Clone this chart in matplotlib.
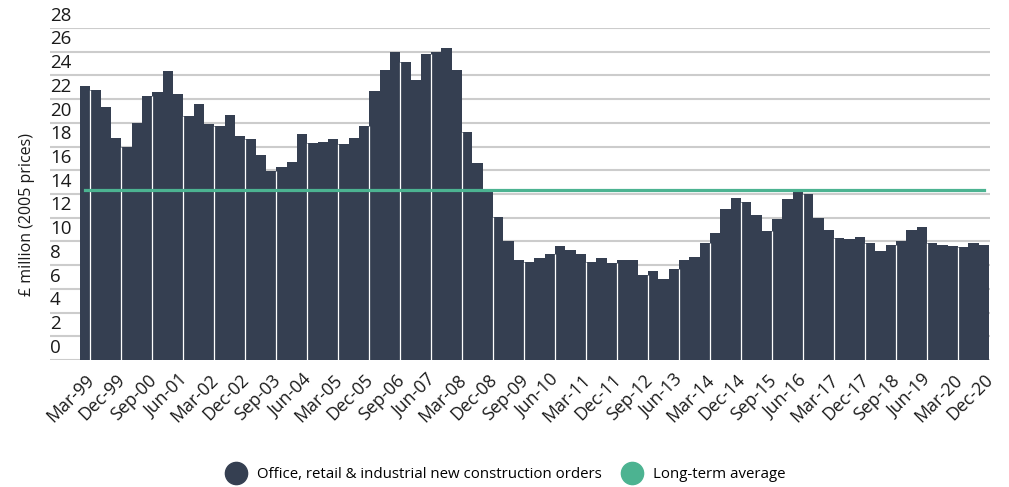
#!/usr/bin/env python3

import numpy as np
import matplotlib
matplotlib.use('Agg')
import matplotlib.pyplot as plt
import matplotlib.transforms as mtransforms
from matplotlib.lines import Line2D

plt.rcParams['font.family'] = ['Open Sans', 'DejaVu Sans']

# quarterly, Mar-99 .. Dec-20
quarters = []
for yr in range(1999, 2021):
	for m in ['Mar', 'Jun', 'Sep', 'Dec']:
		quarters.append(m + '-' + str(yr)[2:])

orders = [
	23.1, 22.8, 21.3, 18.7, 18.0, 20.0, 22.3, 22.6, 24.4, 22.4,
	20.6, 21.6, 19.9, 19.7, 20.7, 18.9, 18.6, 17.3, 15.9, 16.3,
	16.7, 19.1, 18.3, 18.4, 18.6, 18.2, 18.7, 19.7, 22.7, 24.5,
	26.0, 25.1, 23.6, 25.8, 26.0, 26.3, 24.5, 19.2, 16.6, 14.4,
	12.1, 10.0, 8.4, 8.3, 8.6, 8.9, 9.6, 9.3, 8.9, 8.3,
	8.6, 8.2, 8.4, 8.4, 7.2, 7.5, 6.8, 7.7, 8.4, 8.7,
	9.9, 10.7, 12.7, 13.7, 13.3, 12.2, 10.9, 11.9, 13.6, 14.2,
	14.0, 12.0, 11.0, 10.3, 10.2, 10.4, 9.9, 9.2, 9.7, 10.0,
	11.0, 11.2, 9.9, 9.7, 9.6, 9.5, 9.9, 9.7,
]
long_term_avg = 14.3

yticks = list(range(0, 29, 2))

bar_col = '#353f51'
avg_col = '#4cb391'
grid_col = '#cccccc'

fig = plt.figure(figsize=(10.09, 4.87), dpi=100)
ax = fig.add_axes([50/1009, 1 - 360/487, 940/1009, 332/487])

x = np.arange(len(orders))
ax.bar(x, orders, width=1.0, color=bar_col, zorder=2)

# white separators every 3 quarters
for i in range(0, len(orders) - 1, 3):
	ax.vlines(i + 0.5, 0, min(orders[i], orders[i+1]), color='white', lw=0.9, zorder=3)

ax.plot([x[0], x[-1]], [long_term_avg, long_term_avg], color=avg_col, lw=2.3, zorder=4)

for v in yticks[1:]:
	ax.axhline(v, color=grid_col, lw=1.5, zorder=1)
ax.axhline(0, color=grid_col, lw=1.5, zorder=1)

ax.set_xlim(-3.4, 87.6)
ax.set_ylim(0, 28)
for s in ax.spines.values():
	s.set_visible(False)

ax.set_yticks([])
# y labels sit above their gridlines
lab_tr = mtransforms.offset_copy(ax.get_yaxis_transform(), fig=fig, x=0, y=8.8, units='points')
for v in yticks:
	ax.text(0, v, str(v), transform=lab_tr, ha='left', va='center', fontsize=13.5, color='#1a1a1a', clip_on=False)

ax.set_xticks(x[::3])
ax.set_xticklabels(quarters[::3], rotation=45, ha='right', rotation_mode='anchor', fontsize=12.8, color='#1a1a1a')
ax.tick_params(axis='x', length=0, pad=8)

fig.text(27/1009, 1 - 215/487, '£ million (2005 prices)', rotation=90, ha='center', va='center', fontsize=11.5, color='#1a1a1a')

handles = [
	Line2D([], [], marker='o', ls='', markersize=16, color=bar_col),
	Line2D([], [], marker='o', ls='', markersize=16, color=avg_col),
]
fig.legend(handles, ['Office, retail & industrial new construction orders', 'Long-term average'],
	loc='center', bbox_to_anchor=(506/1009, 1 - 475/487), ncol=2, frameon=False,
	fontsize=10.8, handletextpad=0.8, columnspacing=1.4, handlelength=1.2)

fig.savefig('out.png', dpi=100)
